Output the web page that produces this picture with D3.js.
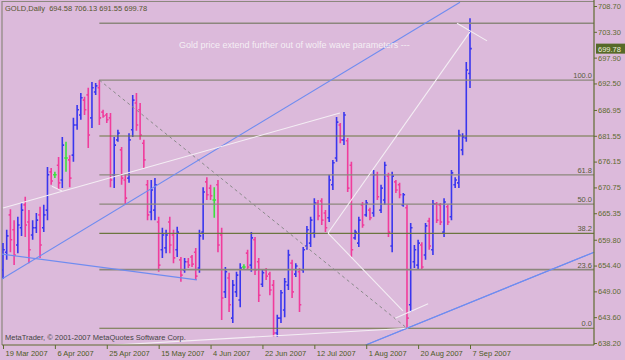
<!DOCTYPE html>
<html>
<head>
<meta charset="utf-8">
<script src="https://cdn.jsdelivr.net/npm/d3@7"></script>
<style>
  body { margin: 0; background: #dcbadb; }
  svg { display: block; font-family: "Liberation Sans", Arial, sans-serif; }
</style>
</head>
<body>
<div id="chart"></div>
<script>
// GOLD daily bars, 19 Mar 2007 .. 7 Sep 2007
const opens = [653.5,657.2,665.0,661.9,658.7,662.3,667.1,663.5,660.8,662.3,665.0,662.3,666.0,674.0,673.4,675.4,672.3,676.9,676.5,677.5,
  683.8,685.9,689.0,690.1,685.3,690.7,691.6,686.5,685.9,685.3,673.4,680.7,678.6,672.3,672.7,682.8,688.4,687.0,680.0,671.3,
  665.6,666.0,663.5,657.7,658.1,663.5,660.8,657.7,655.6,653.5,655.2,656.2,657.2,653.9,661.4,671.9,670.6,668.1,671.3,660.8,
  648.9,651.8,643.4,648.9,647.2,654.1,657.0,654.5,659.8,655.2,650.5,653.5,652.6,650.3,640.3,643.4,645.1,650.3,654.9,652.6,
  653.1,653.5,658.5,659.1,661.2,667.5,667.9,665.4,664.4,671.3,676.9,683.8,680.7,680.5,675.4,660.2,659.1,667.1,665.0,666.0,
  665.4,673.4,666.0,668.1,673.1,658.5,671.9,671.3,667.1,666.5,646.2,655.2,654.5,658.7,656.6,663.7,657.7,667.3,667.1,661.4,
  666.7,664.6,671.3,671.7,678.6,681.1,694.58];
const highs = [659.1,661.9,666.2,663.9,664.6,667.5,668.8,666.0,663.9,665.4,666.7,667.1,675.0,674.8,674.0,677.1,681.3,680.3,677.5,685.3,
  688.0,690.5,689.7,691.6,692.8,692.6,693.2,687.0,686.3,686.3,681.3,682.8,679.2,673.4,682.1,690.1,690.5,688.4,680.7,672.3,
  672.3,672.7,664.6,662.3,661.9,664.6,661.9,662.5,656.2,656.0,656.0,656.6,658.1,661.9,670.8,672.9,671.3,670.8,672.3,662.3,
  654.1,652.9,651.4,653.1,654.9,654.7,657.7,661.4,660.4,656.0,653.5,653.9,653.1,651.4,644.1,649.3,651.8,657.7,655.6,654.9,
  653.9,658.3,662.7,664.6,668.5,668.1,668.5,666.0,673.4,676.5,685.5,684.2,686.5,681.1,676.1,661.9,664.6,667.7,668.1,666.5,
  674.4,674.0,671.3,676.1,673.8,674.0,672.3,671.7,669.6,667.1,663.3,658.7,659.8,659.3,663.3,664.4,668.1,667.7,667.5,668.5,
  667.1,674.4,672.9,682.8,682.1,697.0,706.13];
const lows = [651.6,655.6,657.2,654.5,657.0,660.6,660.4,654.9,659.8,661.2,656.0,661.4,663.9,671.3,672.7,670.2,670.6,674.0,670.8,676.1,
  682.8,684.9,685.9,679.0,683.2,690.1,683.8,685.3,684.2,670.8,670.6,680.3,671.3,667.1,671.7,681.3,682.6,680.7,674.8,663.9,
  663.9,663.9,653.1,656.0,657.0,657.0,654.9,656.2,651.0,652.9,653.9,654.1,651.4,652.9,659.8,668.1,668.1,664.4,657.2,643.0,
  647.6,644.7,642.4,647.8,645.7,653.5,653.5,653.1,652.4,646.8,649.9,651.4,648.2,639.5,639.5,642.4,643.6,649.3,647.6,652.0,
  644.7,652.9,657.7,658.3,660.2,663.9,662.9,661.4,663.5,670.2,676.1,680.0,679.6,669.8,656.2,659.8,658.3,662.3,664.6,663.9,
  664.6,668.1,665.4,667.1,660.4,657.2,669.6,668.5,666.7,641.3,644.7,653.9,653.5,653.5,655.6,657.7,656.6,663.3,662.9,660.4,
  662.9,663.9,670.6,670.6,677.5,680.3,691.55];
const closes = [657.7,660.6,659.8,656.6,662.9,666.0,662.9,657.7,662.3,663.9,658.7,665.0,673.4,672.1,673.4,671.7,679.6,676.9,672.7,683.8,
  687.0,689.5,687.0,681.7,691.6,692.0,685.3,685.7,684.9,672.3,679.6,682.1,672.7,668.5,680.7,689.0,683.8,681.7,676.5,665.0,
  670.2,671.3,654.5,660.8,660.8,658.7,656.0,661.4,652.4,655.2,654.5,654.7,652.2,660.6,669.8,669.2,669.0,668.1,658.7,647.6,
  653.1,646.2,650.3,652.4,653.9,654.1,654.1,660.2,653.5,648.2,652.9,652.2,649.3,640.3,643.4,648.7,651.0,656.6,648.9,654.3,
  646.2,657.7,661.9,663.9,667.5,664.8,663.9,662.3,672.3,675.9,684.4,680.7,685.9,670.6,657.7,661.4,663.9,662.9,667.5,664.4,
  673.4,668.8,670.6,675.4,661.4,673.1,670.2,669.2,669.2,643.4,662.3,657.7,659.1,654.1,662.7,658.5,667.3,663.9,663.5,667.7,
  663.5,673.8,672.3,681.7,681.3,695.3,699.78];

// axis ticks
const yTickValues = [708.70, 703.30, 697.90, 692.50, 686.95, 681.55, 676.15, 670.75, 665.35, 659.80, 654.40, 649.00, 643.60, 638.20];
const dateLabels = ["19 Mar 2007", "6 Apr 2007", "25 Apr 2007", "15 May 2007", "4 Jun 2007",
  "22 Jun 2007", "12 Jul 2007", "1 Aug 2007", "20 Aug 2007", "7 Sep 2007"];
const dateIndex = [0, 14, 28, 42, 56, 70, 84, 98, 112, 126];

// fibonacci retracement, swing high bar 26 -> swing low bar 109
const fibHighBar = 26, fibLowBar = 109;
const fibLevels = [0, 23.6, 38.2, 50, 61.8, 100];
const extraLevels = [705.08, 681.51];

// hand drawn trend lines, [bar index, price]
const blueLines = [
  [[-0.3, 651.6], [123.3, 709.5]],
  [[-0.3, 656.8], [52.3, 651.4]],
  [[97.9, 637.8], [159.5, 657.2]]
];
const whiteLines = [
  [[0, 666.45], [90.9, 686.3]],
  [[13.2, 671.0], [15.9, 670.0]],
  [[26.2, 637.6], [109.3, 641.3]],
  [[87.7, 661.2], [126, 703.3]],
  [[87.7, 661.2], [107.9, 644.9]],
  [[105.8, 643.4], [114.7, 646.4]],
  [[122.5, 705.1], [130.6, 701.4]]
];
const note = { bar: 47.5, price: 699.9, text: "Gold price extend further out of wolfe wave parameters ---" };

const W = 625, H = 360, axisX = 594, bottomY = 345;
const svg = d3.select("#chart").append("svg").attr("width", W).attr("height", H);
svg.append("rect").attr("width", W).attr("height", H).attr("fill", "#dcbadb");

const x = d3.scaleLinear().domain([0, closes.length - 1]).range([3, 470]);
const y = d3.scaleLinear().domain([638.20, 708.70]).range([343, 6]);

svg.append("clipPath").attr("id", "plot")
  .append("rect").attr("x", 2).attr("y", 1).attr("width", axisX - 2).attr("height", bottomY - 1);

// frame
svg.append("path")
  .attr("d", `M2,${bottomY}V1.5H${axisX}`)
  .attr("fill", "none").attr("stroke", "#8c877d").attr("stroke-width", 1.2);

const plot = svg.append("g").attr("clip-path", "url(#plot)");

// OHLC bars
const bars = d3.range(closes.length).map(i => ({ i, o: opens[i], h: highs[i], l: lows[i], c: closes[i] }));
const barColor = d => d.c > d.o ? "#3a36ee" : (d.c < d.o ? "#f03c9c" : "#3ee03e");
plot.append("g").selectAll("path").data(bars).join("path")
  .attr("d", d => {
    const cx = x(d.i);
    return `M${cx},${y(d.h)}V${y(d.l)}M${cx - 1.8},${y(d.o)}H${cx}M${cx},${y(d.c)}H${cx + 1.8}`;
  })
  .attr("fill", "none")
  .attr("stroke", barColor)
  .attr("stroke-width", 1.6);

// fib + horizontal levels
const fibHigh = highs[fibHighBar], fibLow = lows[fibLowBar];
const fibPrice = lv => fibLow + (fibHigh - fibLow) * lv / 100;
const oliveLevels = new Set([0, 38.2]);
plot.append("g").selectAll("line").data(extraLevels).join("line")
  .attr("x1", x(fibHighBar)).attr("x2", axisX)
  .attr("y1", d => y(d)).attr("y2", d => y(d))
  .attr("stroke", (d, i) => i === 0 ? "#8c877d" : "#6c7640")
  .attr("stroke-width", (d, i) => i === 0 ? 1.4 : 1.1);
plot.append("g").selectAll("line").data(fibLevels).join("line")
  .attr("x1", x(fibHighBar)).attr("x2", axisX)
  .attr("y1", d => y(fibPrice(d))).attr("y2", d => y(fibPrice(d)))
  .attr("stroke", d => oliveLevels.has(d) ? "#6c7640" : "#8c877d")
  .attr("stroke-width", d => d === 23.6 ? 1.8 : (oliveLevels.has(d) ? 1.1 : 1.4));
svg.append("g").selectAll("text").data(fibLevels).join("text")
  .attr("x", axisX - 2).attr("y", d => y(fibPrice(d)) - 2)
  .attr("text-anchor", "end")
  .attr("font-size", 7.5).attr("fill", "#5a5a3c")
  .text(d => d3.format(".1f")(d));

// trend lines
const seg = d3.line().x(d => x(d[0])).y(d => y(d[1]));
plot.append("path")
  .attr("d", seg([[fibHighBar, highs[fibHighBar]], [fibLowBar, lows[fibLowBar]]]))
  .attr("fill", "none").attr("stroke", "#8a8a8a").attr("stroke-width", 1)
  .attr("stroke-dasharray", "3,3");
plot.append("g").selectAll("path").data(blueLines).join("path")
  .attr("d", seg).attr("fill", "none").attr("stroke", "#6f8cf0").attr("stroke-width", 1.1);
plot.append("g").selectAll("path").data(whiteLines).join("path")
  .attr("d", seg).attr("fill", "none").attr("stroke", "#f4eef4").attr("stroke-width", 1.1);
svg.append("path")
  .attr("d", seg(blueLines[2]))
  .attr("fill", "none").attr("stroke", "#6f8cf0").attr("stroke-width", 1.1);

svg.append("text")
  .attr("x", x(note.bar)).attr("y", y(note.price))
  .attr("font-size", 9).attr("fill", "#f4eef4")
  .text(note.text);

// right price axis
svg.append("line").attr("x1", axisX).attr("x2", axisX).attr("y1", 0).attr("y2", bottomY)
  .attr("stroke", "#5e6b30").attr("stroke-width", 1.2);
const yAxis = svg.append("g").attr("transform", `translate(${axisX},0)`)
  .call(d3.axisRight(y).tickValues(yTickValues).tickFormat(d3.format(".2f")).tickSize(3).tickSizeOuter(0).tickPadding(1));
yAxis.select(".domain").remove();
yAxis.selectAll("line").attr("stroke", "#5e6b30");
yAxis.selectAll("text").attr("font-size", 7.5).attr("fill", "#5e6b30")
  .attr("font-family", "\"Liberation Sans\", Arial, sans-serif");

// current price box
const last = closes.length - 1;
svg.append("rect")
  .attr("x", axisX + 2).attr("y", y(closes[last]) - 5)
  .attr("width", W - axisX - 2).attr("height", 10)
  .attr("fill", "#566a28");
svg.append("text")
  .attr("x", axisX + 4).attr("y", y(closes[last]) + 3)
  .attr("font-size", 7.5).attr("fill", "#eef0dc")
  .text(d3.format(".2f")(closes[last]));

// bottom date axis
svg.append("line").attr("x1", 2).attr("x2", axisX).attr("y1", bottomY).attr("y2", bottomY)
  .attr("stroke", "#5e6b30").attr("stroke-width", 1.2);
const xAxis = svg.append("g").attr("transform", `translate(0,${bottomY})`)
  .call(d3.axisBottom(x).tickValues(dateIndex).tickFormat((d, i) => dateLabels[i]).tickSize(4).tickSizeOuter(0));
xAxis.select(".domain").remove();
xAxis.selectAll("line").attr("stroke", "#5e6b30");
xAxis.selectAll("text")
  .attr("text-anchor", "start").attr("x", 2).attr("y", 6)
  .attr("font-size", 7.5).attr("fill", "#4e5a26")
  .attr("font-family", "\"Liberation Sans\", Arial, sans-serif");

// titles
const f2 = d3.format(".2f");
svg.append("text").attr("x", 5).attr("y", 11)
  .attr("font-size", 7.5).attr("fill", "#55552f").style("white-space", "pre")
  .text(`GOLD,Daily  ${f2(opens[last])} ${f2(highs[last])} ${f2(lows[last])} ${f2(closes[last])}`);
svg.append("text").attr("x", 5).attr("y", 340)
  .attr("font-size", 7.5).attr("fill", "#444444")
  .text("MetaTrader, \u00a9 2001-2007 MetaQuotes Software Corp.");
</script>
</body>
</html>
